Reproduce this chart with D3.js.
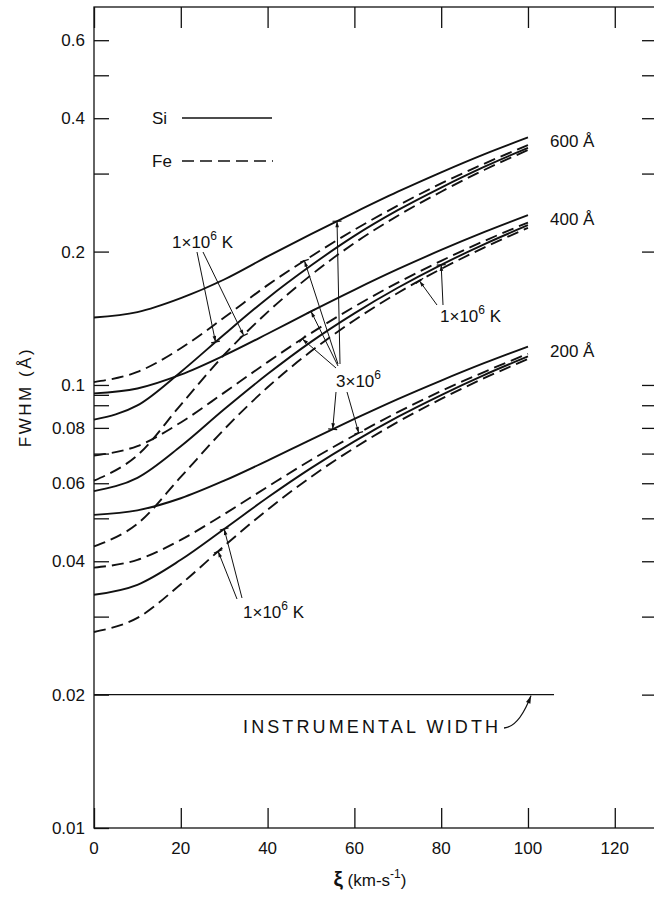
<!DOCTYPE html>
<html>
<head>
<meta charset="utf-8">
<script src="https://cdn.jsdelivr.net/npm/d3@7"></script>
<style>
  html, body { margin: 0; padding: 0; background: #fff; }
  svg { display: block; }
  text { font-family: "Liberation Sans", Arial, sans-serif; fill: #111; }
</style>
</head>
<body>
<svg id="chart" width="654" height="902"></svg>
<script>
// ---- data ----
const xi = [0, 10, 20, 30, 40, 50, 60, 70, 80, 90, 100];

const si600_3e6 = [0.142, 0.146, 0.157, 0.173, 0.195, 0.219, 0.245, 0.273, 0.302, 0.332, 0.362];
const fe600_3e6 = [0.1015, 0.107, 0.121, 0.142, 0.168, 0.195, 0.224, 0.254, 0.285, 0.316, 0.348];
const si600_1e6 = [0.0835, 0.0899, 0.107, 0.130, 0.157, 0.186, 0.217, 0.248, 0.279, 0.311, 0.343];
const fe600_1e6 = [0.0608, 0.0694, 0.0902, 0.117, 0.146, 0.177, 0.209, 0.241, 0.273, 0.306, 0.339];

const si400_3e6 = [0.0957, 0.0982, 0.1055, 0.1166, 0.1305, 0.1466, 0.164, 0.1825, 0.2017, 0.2215, 0.2417];
const fe400_3e6 = [0.0693, 0.0728, 0.0823, 0.0961, 0.1126, 0.1309, 0.1502, 0.1702, 0.1906, 0.2115, 0.2326];
const si400_1e6 = [0.0576, 0.0617, 0.0727, 0.0881, 0.1058, 0.1251, 0.1451, 0.1657, 0.1867, 0.2079, 0.2294];
const fe400_1e6 = [0.0432, 0.0486, 0.062, 0.0794, 0.0988, 0.1191, 0.14, 0.1613, 0.1828, 0.2044, 0.2262];

const si200_3e6 = [0.0509, 0.0521, 0.0555, 0.0608, 0.0675, 0.0753, 0.0838, 0.0929, 0.1023, 0.1121, 0.1221];
const fe200_3e6 = [0.0387, 0.0403, 0.0447, 0.0511, 0.0589, 0.0677, 0.077, 0.0868, 0.0969, 0.1071, 0.1176];
const si200_1e6 = [0.0336, 0.0354, 0.0403, 0.0473, 0.0557, 0.0649, 0.0746, 0.0847, 0.0949, 0.1054, 0.116];
const fe200_1e6 = [0.0277, 0.0298, 0.0355, 0.0433, 0.0523, 0.062, 0.0721, 0.0825, 0.093, 0.1037, 0.1144];

const instrumentalWidth = 0.02;
const instrumentalXiEnd = 106;

const xTicks = [0, 20, 40, 60, 80, 100, 120];
const yTicksLeft = [0.01, 0.02, 0.03, 0.04, 0.05, 0.06, 0.07, 0.08, 0.09, 0.095, 0.1, 0.2, 0.3, 0.4, 0.5, 0.6];
const yTicksRight = [0.02, 0.03, 0.04, 0.05, 0.06, 0.07, 0.08, 0.09, 0.1, 0.2, 0.3, 0.4, 0.5, 0.6];
const yTickLabels = {0.01: "0.01", 0.02: "0.02", 0.04: "0.04", 0.06: "0.06", 0.08: "0.08",
                     0.1: "0.1", 0.2: "0.2", 0.4: "0.4", 0.6: "0.6"};
const wavelengthLabels = ["600 Å", "400 Å", "200 Å"];

const series = [
  {name: "si600_3e6", v: si600_3e6, dashed: false},
  {name: "fe600_3e6", v: fe600_3e6, dashed: true},
  {name: "si600_1e6", v: si600_1e6, dashed: false},
  {name: "fe600_1e6", v: fe600_1e6, dashed: true},
  {name: "si400_3e6", v: si400_3e6, dashed: false},
  {name: "fe400_3e6", v: fe400_3e6, dashed: true},
  {name: "si400_1e6", v: si400_1e6, dashed: false},
  {name: "fe400_1e6", v: fe400_1e6, dashed: true},
  {name: "si200_3e6", v: si200_3e6, dashed: false},
  {name: "fe200_3e6", v: fe200_3e6, dashed: true},
  {name: "si200_1e6", v: si200_1e6, dashed: false},
  {name: "fe200_1e6", v: fe200_1e6, dashed: true}
];
const byName = {};
series.forEach(s => byName[s.name] = s.v);

// ---- scales ----
const pLeft = 94, pRight = 656, pTop = 7, pBottom = 828;
const x = d3.scaleLinear().domain([0, 129.5]).range([pLeft, pRight]);
const y = d3.scaleLog().domain([0.01, 0.713]).range([pBottom, pTop]);

const svg = d3.select("#chart");
const ink = "#111";

// value of a series at arbitrary xi (for annotation targets)
function valAt(name, q) {
  const v = byName[name];
  const i = Math.min(Math.floor(q / 10), 9);
  const t = (q - xi[i]) / 10;
  return Math.exp(Math.log(v[i]) * (1 - t) + Math.log(v[i + 1]) * t);
}

// ---- frame ----
svg.append("rect").attr("x", pLeft).attr("y", pTop)
  .attr("width", pRight - pLeft).attr("height", pBottom - pTop)
  .attr("fill", "none").attr("stroke", ink).attr("stroke-width", 1.3);

// axes with inward ticks
const gLeft = svg.append("g").attr("transform", `translate(${pLeft},0)`)
  .call(d3.axisRight(y).tickValues(yTicksLeft).tickSize(15).tickFormat(""));
const gRight = svg.append("g").attr("transform", `translate(${pRight},0)`)
  .call(d3.axisLeft(y).tickValues(yTicksRight).tickSize(14).tickFormat(""));
const gBottom = svg.append("g").attr("transform", `translate(0,${pBottom})`)
  .call(d3.axisTop(x).tickValues(xTicks).tickSize(20).tickFormat(""));
const gTop = svg.append("g").attr("transform", `translate(0,${pTop})`)
  .call(d3.axisBottom(x).tickValues(xTicks).tickSize(21).tickFormat(""));
[gLeft, gRight, gBottom, gTop].forEach(g => {
  g.select(".domain").remove();
  g.selectAll(".tick line").attr("stroke", ink).attr("stroke-width", 1.3);
});

// tick labels
svg.append("g").selectAll("text")
  .data(yTicksLeft.filter(d => yTickLabels[d]))
  .join("text")
  .attr("x", pLeft - 9).attr("y", d => y(d) + 6)
  .attr("text-anchor", "end").attr("font-size", 17)
  .text(d => yTickLabels[d]);

svg.append("g").selectAll("text")
  .data(xTicks).join("text")
  .attr("x", d => x(d)).attr("y", pBottom + 26)
  .attr("text-anchor", "middle").attr("font-size", 17)
  .text(d => d);

// axis titles
svg.append("text")
  .attr("transform", `translate(31,397) rotate(-90)`)
  .attr("text-anchor", "middle").attr("font-size", 17).attr("letter-spacing", 2.5)
  .text("FWHM (Å)");

const xt = svg.append("text").attr("x", 370).attr("y", 886)
  .attr("text-anchor", "middle").attr("font-size", 17);
xt.append("tspan").attr("font-size", 21).attr("font-weight", "bold").text("ξ");
xt.append("tspan").text(" (km-s");
xt.append("tspan").attr("dy", -8).attr("font-size", 12).text("-1");
xt.append("tspan").attr("dy", 8).text(")");

// ---- curves ----
const line = d3.line()
  .x((d, i) => x(xi[i]))
  .y(d => y(d))
  .curve(d3.curveMonotoneX);

svg.append("g").selectAll("path")
  .data(series).join("path")
  .attr("d", d => line(d.v))
  .attr("fill", "none").attr("stroke", ink).attr("stroke-width", 1.9)
  .attr("stroke-dasharray", d => d.dashed ? "12,6" : null);

// instrumental width
svg.append("line")
  .attr("x1", x(0)).attr("x2", x(instrumentalXiEnd))
  .attr("y1", y(instrumentalWidth)).attr("y2", y(instrumentalWidth))
  .attr("stroke", ink).attr("stroke-width", 1.2);

svg.append("text").attr("x", 243).attr("y", 733)
  .attr("font-size", 18).attr("textLength", 255).attr("lengthAdjust", "spacing")
  .text("INSTRUMENTAL  WIDTH");

// ---- arrow helper ----
svg.append("defs").append("marker")
  .attr("id", "ah").attr("viewBox", "0 0 10 10")
  .attr("refX", 10).attr("refY", 5)
  .attr("markerWidth", 7).attr("markerHeight", 6)
  .attr("orient", "auto-start-reverse")
  .append("path").attr("d", "M0,2 L10,5 L0,8 Z").attr("fill", ink);

function arrowTo(x0, y0, name, q) {
  const tx = x(q), ty = y(valAt(name, q));
  svg.append("line")
    .attr("x1", x0).attr("y1", y0).attr("x2", tx).attr("y2", ty)
    .attr("stroke", ink).attr("stroke-width", 1)
    .attr("marker-end", "url(#ah)");
  // small cross bar at the tip
  const dx = tx - x0, dy = ty - y0, L = Math.hypot(dx, dy);
  const px = -dy / L * 4.5, py = dx / L * 4.5;
  svg.append("line")
    .attr("x1", tx - px).attr("y1", ty - py).attr("x2", tx + px).attr("y2", ty + py)
    .attr("stroke", ink).attr("stroke-width", 1.2);
}

const instrPath = d3.path();
instrPath.moveTo(504, 728);
instrPath.quadraticCurveTo(519, 727, 531, y(instrumentalWidth) + 1);
svg.append("path").attr("d", instrPath.toString())
  .attr("fill", "none").attr("stroke", ink).attr("stroke-width", 1.3)
  .attr("marker-end", "url(#ah)");

// ---- labels ----
function tempLabel(xp, yp, mant, withK) {
  const t = svg.append("text").attr("x", xp).attr("y", yp).attr("font-size", 17);
  t.append("tspan").text(mant + "×10");
  t.append("tspan").attr("dy", -8).attr("font-size", 12).text("6");
  t.append("tspan").attr("dy", 8).text(withK ? " K" : "");
}

tempLabel(172, 248, "1", true);
arrowTo(197, 252, "si600_1e6", 28);
arrowTo(203, 252, "fe600_1e6", 34.5);

tempLabel(440, 322, "1", true);
arrowTo(437, 305, "fe400_1e6", 75);
arrowTo(443, 305, "si400_1e6", 80);

tempLabel(336, 387, "3", false);
arrowTo(340, 364, "si600_3e6", 56);
arrowTo(338, 364, "fe600_3e6", 48.5);
arrowTo(338, 366, "si400_3e6", 50);
arrowTo(336, 368, "fe400_3e6", 48);
arrowTo(336, 392, "si200_3e6", 55);
arrowTo(347, 392, "fe200_3e6", 61);

tempLabel(243, 618, "1", true);
arrowTo(242, 598, "si200_1e6", 30);
arrowTo(237, 599, "fe200_1e6", 28.6);

// wavelength labels at curve ends
const groupEnds = [si600_3e6, si400_3e6, si200_3e6];
svg.append("g").selectAll("text")
  .data(wavelengthLabels).join("text")
  .attr("x", 550)
  .attr("y", (d, i) => y(groupEnds[i][10]) + 10)
  .attr("font-size", 17)
  .text(d => d);

// legend
svg.append("text").attr("x", 152).attr("y", 124).attr("font-size", 17).text("Si");
svg.append("line").attr("x1", 182).attr("x2", 272).attr("y1", 118).attr("y2", 118)
  .attr("stroke", ink).attr("stroke-width", 1.5);
svg.append("text").attr("x", 152).attr("y", 167).attr("font-size", 17).text("Fe");
svg.append("line").attr("x1", 182).attr("x2", 273).attr("y1", 161).attr("y2", 161)
  .attr("stroke", ink).attr("stroke-width", 1.5).attr("stroke-dasharray", "12,6");
</script>
</body>
</html>
